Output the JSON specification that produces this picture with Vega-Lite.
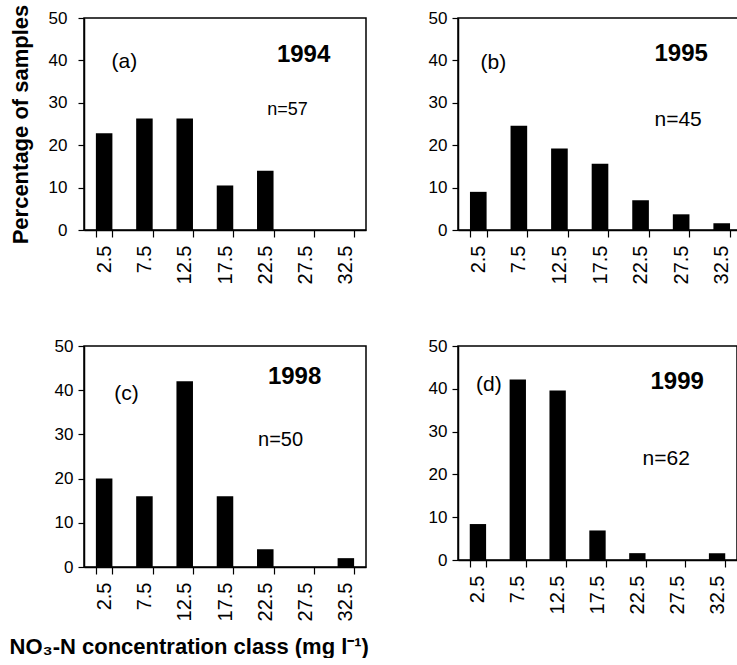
{
  "$schema": "https://vega.github.io/schema/vega-lite/v6.json",
  "background": "white",
  "padding": {"left": 8, "top": 3, "right": 0, "bottom": 0},
  "bounds": "flush",
  "columns": 2,
  "spacing": {"row": 116, "column": 92},
  "config": {
    "font": "Liberation Sans",
    "view": {"stroke": "black", "strokeWidth": 1.5},
    "axis": {"domainColor": "black", "domainWidth": 1.5, "tickColor": "black", "tickWidth": 1.2, "labelColor": "black", "titleColor": "black", "grid": false, "labelFont": "Liberation Sans", "titleFont": "Liberation Sans"},
    "axisX": {"labelAngle": 270, "labelAlign": "right", "labelBaseline": "middle", "labelFontSize": 20, "tickBand": "extent", "tickSize": 7, "labelPadding": 8, "title": null},
    "axisY": {"labelFontSize": 17, "tickSize": 6, "labelPadding": 5, "values": [0, 10, 20, 30, 40, 50], "title": null},
    "scale": {"bandPaddingInner": 0.59, "bandPaddingOuter": 0.295},
    "text": {"color": "black", "font": "Liberation Sans", "align": "center", "baseline": "middle"}
  },
  "datasets": {
    "bars": [
      {"panel": "a", "cls": "2.5", "pct": 22.8},
      {"panel": "a", "cls": "7.5", "pct": 26.3},
      {"panel": "a", "cls": "12.5", "pct": 26.3},
      {"panel": "a", "cls": "17.5", "pct": 10.5},
      {"panel": "a", "cls": "22.5", "pct": 14.0},
      {"panel": "a", "cls": "27.5", "pct": 0},
      {"panel": "a", "cls": "32.5", "pct": 0},
      {"panel": "b", "cls": "2.5", "pct": 9.0},
      {"panel": "b", "cls": "7.5", "pct": 24.6},
      {"panel": "b", "cls": "12.5", "pct": 19.2},
      {"panel": "b", "cls": "17.5", "pct": 15.6},
      {"panel": "b", "cls": "22.5", "pct": 7.0},
      {"panel": "b", "cls": "27.5", "pct": 3.7},
      {"panel": "b", "cls": "32.5", "pct": 1.6},
      {"panel": "c", "cls": "2.5", "pct": 20},
      {"panel": "c", "cls": "7.5", "pct": 16},
      {"panel": "c", "cls": "12.5", "pct": 42},
      {"panel": "c", "cls": "17.5", "pct": 16},
      {"panel": "c", "cls": "22.5", "pct": 4},
      {"panel": "c", "cls": "27.5", "pct": 0},
      {"panel": "c", "cls": "32.5", "pct": 2},
      {"panel": "d", "cls": "2.5", "pct": 8.4},
      {"panel": "d", "cls": "7.5", "pct": 42.2},
      {"panel": "d", "cls": "12.5", "pct": 39.6},
      {"panel": "d", "cls": "17.5", "pct": 6.9},
      {"panel": "d", "cls": "22.5", "pct": 1.6},
      {"panel": "d", "cls": "27.5", "pct": 0},
      {"panel": "d", "cls": "32.5", "pct": 1.6}
    ]
  },
  "concat": [
    {
      "width": 282, "height": 212,
      "layer": [
        {"data": {"name": "bars"}, "transform": [{"filter": "datum.panel === 'a'"}], "mark": {"type": "bar", "color": "black"},
         "encoding": {
           "x": {"field": "cls", "type": "ordinal", "scale": {"domain": ["2.5", "7.5", "12.5", "17.5", "22.5", "27.5", "32.5"]}},
           "y": {"field": "pct", "type": "quantitative", "scale": {"domain": [0, 50], "nice": false}, "axis": {"labelPadding": 11, "title": "Percentage of samples", "titleFontSize": 22, "titleFontWeight": "bold", "titlePadding": 16}}
         }},
        {"data": {"values": [{}]}, "mark": {"type": "text", "text": "(a)", "fontSize": 21, "dx": -20}, "encoding": {"x": {"datum": "7.5", "type": "ordinal"}, "y": {"datum": 39.6, "type": "quantitative"}}},
        {"data": {"values": [{}]}, "mark": {"type": "text", "text": "1994", "fontSize": 24, "fontWeight": "bold", "dx": -2}, "encoding": {"x": {"datum": "27.5", "type": "ordinal"}, "y": {"datum": 41.3, "type": "quantitative"}}},
        {"data": {"values": [{}]}, "mark": {"type": "text", "text": "n=57", "fontSize": 18, "dx": -18}, "encoding": {"x": {"datum": "27.5", "type": "ordinal"}, "y": {"datum": 28.3, "type": "quantitative"}}}
      ]
    },
    {
      "width": 284, "height": 212,
      "layer": [
        {"data": {"name": "bars"}, "transform": [{"filter": "datum.panel === 'b'"}], "mark": {"type": "bar", "color": "black"},
         "encoding": {
           "x": {"field": "cls", "type": "ordinal", "scale": {"domain": ["2.5", "7.5", "12.5", "17.5", "22.5", "27.5", "32.5"]}},
           "y": {"field": "pct", "type": "quantitative", "scale": {"domain": [0, 50], "nice": false}}
         }},
        {"data": {"values": [{}]}, "mark": {"type": "text", "text": "(b)", "fontSize": 21, "dx": 15}, "encoding": {"x": {"datum": "2.5", "type": "ordinal"}, "y": {"datum": 39.4, "type": "quantitative"}}},
        {"data": {"values": [{}]}, "mark": {"type": "text", "text": "1995", "fontSize": 24, "fontWeight": "bold", "dx": 0}, "encoding": {"x": {"datum": "27.5", "type": "ordinal"}, "y": {"datum": 41.4, "type": "quantitative"}}},
        {"data": {"values": [{}]}, "mark": {"type": "text", "text": "n=45", "fontSize": 21, "dx": -3}, "encoding": {"x": {"datum": "27.5", "type": "ordinal"}, "y": {"datum": 26.0, "type": "quantitative"}}}
      ]
    },
    {
      "width": 282, "height": 221,
      "layer": [
        {"data": {"name": "bars"}, "transform": [{"filter": "datum.panel === 'c'"}], "mark": {"type": "bar", "color": "black"},
         "encoding": {
           "x": {"field": "cls", "type": "ordinal", "scale": {"domain": ["2.5", "7.5", "12.5", "17.5", "22.5", "27.5", "32.5"]}, "axis": {"title": "NO₃-N concentration class  (mg l⁻¹)", "titleFontSize": 22, "titleFontWeight": "bold", "titleAlign": "left", "titleAnchor": null, "titleX": -75, "titleY": 86, "titleBaseline": "alphabetic"}},
           "y": {"field": "pct", "type": "quantitative", "scale": {"domain": [0, 50], "nice": false}}
         }},
        {"data": {"values": [{}]}, "mark": {"type": "text", "text": "(c)", "fontSize": 21, "dx": -18}, "encoding": {"x": {"datum": "7.5", "type": "ordinal"}, "y": {"datum": 39.2, "type": "quantitative"}}},
        {"data": {"values": [{}]}, "mark": {"type": "text", "text": "1998", "fontSize": 24, "fontWeight": "bold", "dx": -11}, "encoding": {"x": {"datum": "27.5", "type": "ordinal"}, "y": {"datum": 43.0, "type": "quantitative"}}},
        {"data": {"values": [{}]}, "mark": {"type": "text", "text": "n=50", "fontSize": 20, "dx": -25}, "encoding": {"x": {"datum": "27.5", "type": "ordinal"}, "y": {"datum": 28.7, "type": "quantitative"}}}
      ]
    },
    {
      "width": 279, "height": 214,
      "layer": [
        {"data": {"name": "bars"}, "transform": [{"filter": "datum.panel === 'd'"}], "mark": {"type": "bar", "color": "black"},
         "encoding": {
           "x": {"field": "cls", "type": "ordinal", "scale": {"domain": ["2.5", "7.5", "12.5", "17.5", "22.5", "27.5", "32.5"]}},
           "y": {"field": "pct", "type": "quantitative", "scale": {"domain": [0, 50], "nice": false}}
         }},
        {"data": {"values": [{}]}, "mark": {"type": "text", "text": "(d)", "fontSize": 21, "dx": 11}, "encoding": {"x": {"datum": "2.5", "type": "ordinal"}, "y": {"datum": 41.0, "type": "quantitative"}}},
        {"data": {"values": [{}]}, "mark": {"type": "text", "text": "1999", "fontSize": 24, "fontWeight": "bold", "dx": 0}, "encoding": {"x": {"datum": "27.5", "type": "ordinal"}, "y": {"datum": 41.6, "type": "quantitative"}}},
        {"data": {"values": [{}]}, "mark": {"type": "text", "text": "n=62", "fontSize": 21, "dx": -11}, "encoding": {"x": {"datum": "27.5", "type": "ordinal"}, "y": {"datum": 23.6, "type": "quantitative"}}}
      ]
    }
  ]
}
